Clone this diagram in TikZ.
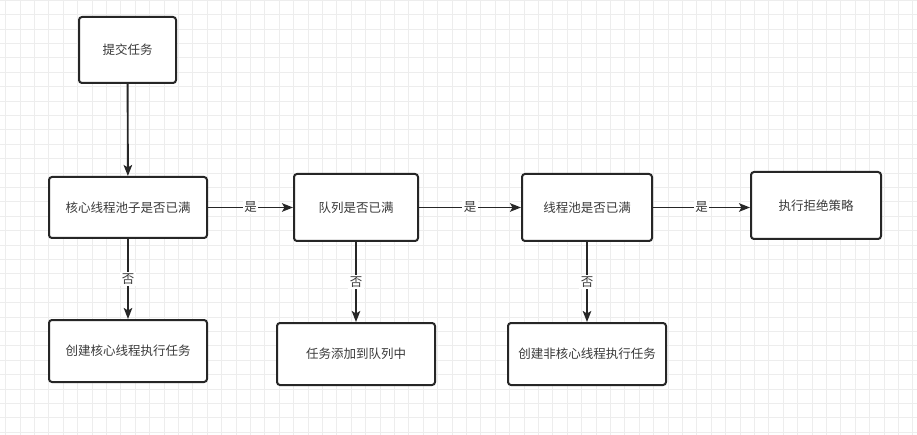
\documentclass[tikz,border=0pt]{standalone}
\usepackage{fontspec}
\newfontfamily\cjk{Noto Sans CJK SC}
\usetikzlibrary{arrows.meta}
\definecolor{gridc}{HTML}{EDEDED}
\definecolor{boxc}{HTML}{262626}
\definecolor{txtc}{HTML}{3A3A3A}
\begin{document}
\begin{tikzpicture}[x=1pt,y=-1pt,
  box/.style={draw=boxc, line width=2pt, rounded corners=3pt, fill=white,
    minimum width=#1, inner sep=0pt, font=\cjk\fontsize{12.5}{14}\selectfont, text=txtc},
  arr/.style={draw=boxc, line width=1.9pt, -{Stealth[length=11pt,width=8.5pt,inset=2.5pt]}},
  lab/.style={fill=white, inner sep=1.5pt, font=\cjk\fontsize{12.5}{14}\selectfont, text=txtc}]
\useasboundingbox (0,0) rectangle (917,435);
\fill[white] (0,0) rectangle (917,435);
\begin{scope}
\clip (0,0) rectangle (917,435);
\foreach \i in {0,...,63} \draw[gridc, line width=0.9pt] (5.7+\i*14.4,0) -- (5.7+\i*14.4,435);
\foreach \j in {0,...,30} \draw[gridc, line width=0.9pt] (0,0.3+\j*14.4) -- (917,0.3+\j*14.4);
\end{scope}
% nodes
\node[box=97pt, minimum height=66pt] (submit) at (127.5,50) {提交任务};
\node[box=158pt, minimum height=61pt] (core) at (128,207.5) {核心线程池子是否已满};
\node[box=124pt, minimum height=67pt] (queue) at (356,207.5) {队列是否已满};
\node[box=130pt, minimum height=67pt] (pool) at (587,207.5) {线程池是否已满};
\node[box=130pt, minimum height=67pt] (reject) at (816,205.5) {执行拒绝策略};
\node[box=158pt, minimum height=62pt] (createcore) at (128,351) {创建核心线程执行任务};
\node[box=158pt, minimum height=62pt] (addqueue) at (356,354) {任务添加到队列中};
\node[box=158pt, minimum height=62pt] (createnon) at (587,354) {创建非核心线程执行任务};
% connectors
\draw[arr] (submit) -- (core);
\draw[arr] (core.east |- 0,207.5) -- node[lab]{是} (queue.west |- 0,207.5);
\draw[arr] (queue.east |- 0,207.5) -- node[lab]{是} (pool.west |- 0,207.5);
\draw[arr] (pool.east |- 0,207.5) -- node[lab]{是} (reject.west |- 0,207.5);
\draw[arr] (core) -- node[lab]{否} (createcore);
\draw[arr] (queue) -- node[lab]{否} (addqueue);
\draw[arr] (pool) -- node[lab]{否} (createnon);
\end{tikzpicture}
\end{document}
